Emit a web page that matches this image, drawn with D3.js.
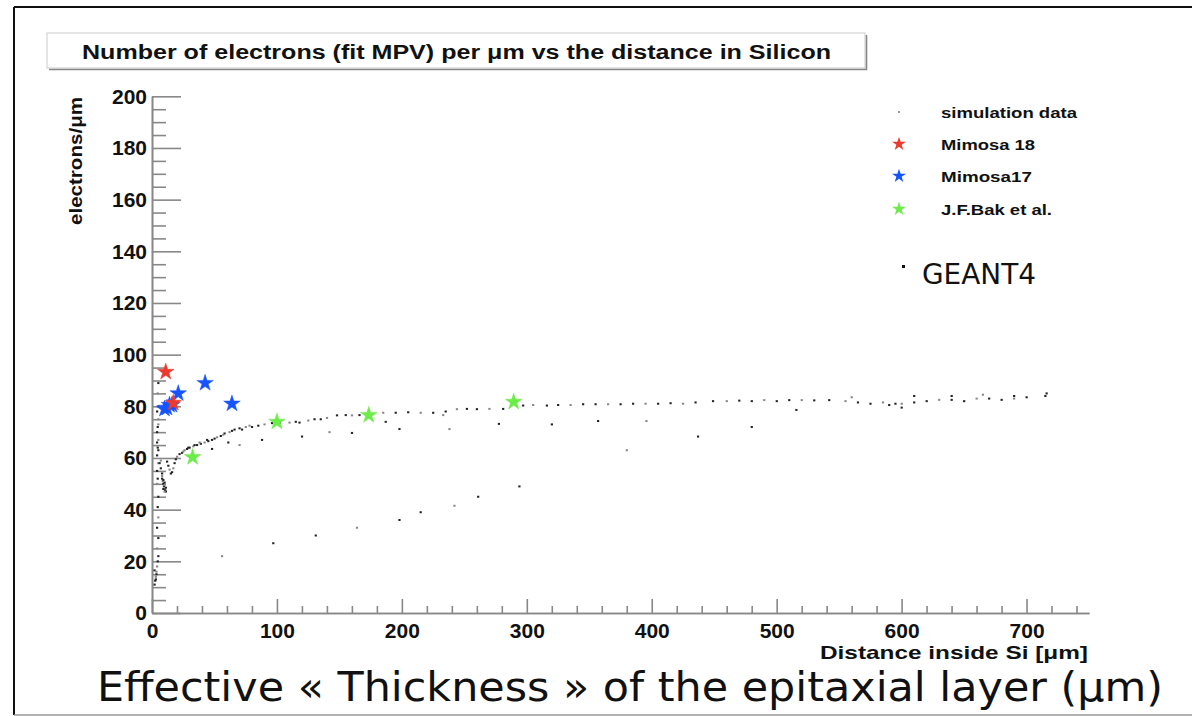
<!DOCTYPE html>
<html>
<head>
<meta charset="utf-8">
<script src="https://cdn.jsdelivr.net/npm/d3@7"></script>
<style>
  html, body { margin: 0; padding: 0; background: #fff; }
  svg { display: block; }
  .rt { font-family: "Liberation Sans", Arial, sans-serif; font-weight: bold; fill: #111; }
</style>
</head>
<body>
<svg id="chart" width="1192" height="716"></svg>
<script>
// ---------- data ----------
const chartTitle = "Number of electrons (fit MPV) per \u03bcm vs the distance in Silicon";
const xTitle = "Distance inside Si [\u03bcm]";
const yTitle = "electrons/\u03bcm";
const bigCaption = "Effective \u00ab Thickness \u00bb of the epitaxial layer (\u03bcm)";
const xMajorTicks = [0, 100, 200, 300, 400, 500, 600, 700];
const yMajorTicks = [0, 20, 40, 60, 80, 100, 120, 140, 160, 180, 200];

const legendNames = ["simulation data", "Mimosa 18", "Mimosa17", "J.F.Bak et al."];

// measured points [distance (um), electrons/um]
const mimosa18 = [[11, 93.3], [17, 81.3]];
const mimosa17 = [[10, 79], [12, 79.4], [14, 80.5], [16, 80.5], [21, 85], [42.5, 89], [64, 81]];
const bak = [[32.5, 60.3], [100, 74], [173.5, 76.6], [289.5, 81.7]];

// GEANT4 simulation points
const simulation = [
  [2,11],[2.5,12.5],[3,14],[3.5,15],[2,16.5],[4,18],[4.5,20],[5,22],[4,25],[5,29],[4,33],[5,37],
  [4.5,41],[5,45],[4,50],[4.5,52],[4,55],[5,58],[4,61],[4.5,64],[5,67],[4,70],[4.5,72],[5,75],
  [4,78],[5,80],[4.5,85],[5,89],[3,13],[3.5,16],[5,63],[4,66],[5,73],
  [6,58],[7,56],[7,59],[8,54],[8,52],[8.5,51],[9,50],[9.5,49],[10,48],[10.5,47.5],[11,47],
  [10,49.5],[9,51.5],[11,48.5],[10,47],[9,48],[10,50.5],[8,53],
  [12,58.6],[13,57],[14,55.5],[15,54],[16,54.5],[17,56],[18,58],[19,59.5],[20,60.5],
  [22,61.5],[24,62],[26,63],[28,63.5],[30,64],[33,64.5],[36,65],[39,65.5],[42,66],[45,66.5],
  [48,67],[52,68],[55,68.5],[58,69.5],[62,70],[66,71],[70,71.5],[75,72],[80,72],[85,72.5],
  [90,73],[96,73.5],[102,73.5],[110,73.7],[115,74],[118,73.7],[125,74.5],[130,75],[135,75],
  [140,75.5],[148,76.5],[155,76.6],[160,76.5],[166,76.6],[175,77],[185,77.5],[195,77.5],
  [205,77.7],[215,77.5],[225,77.5],[235,78],[244,78.9],[252,79],[260,78.9],[270,79],[281,79],
  [297,80.3],[305,80.5],[316,80.3],[325,80.5],[335,80.5],[345,80.8],[355,80.8],[365,80.8],
  [375,80.8],[385,81],[395,81],[405,81],[415,81.2],[425,81],[435,81.5],[449,82],[460,82],
  [470,82.2],[480,82],[490,82.4],[500,82],[510,82.4],[520,82.4],[530,82.3],[542,82.4],
  [555,82],[565,81.5],[575,81],[585,81.5],[590,80.5],[595,81],[600,81],[610,81.5],[620,82],
  [630,82.5],[640,82.5],[650,82],[660,83],[670,83],[680,82.5],[690,83],[700,83.5],[715,84],
  [560,83.5],[610,84],[640,84],[665,84.5],[690,84],[716,85],
  [25,62.5],[29,64],[34,65],[38,66],[44,67],[50,67.5],[57,69],[64,70.5],[72,71],[78,72.5],
  [48,63.5],[61,66],[70,65],[88,67],[120,68.3],[142,70],[160,69.7],[198,71.2],[238,71.2],
  [277.6,73.2],[187,74],[233,76.6],[320,73],[357,74.3],[395.7,74.3],[515.7,78.6],[600,79.5],
  [56,22],[97,27],[131,30],[164,33],[198,36],[215,39],[242,41.5],[261,45],[294,49],
  [380,63],[437,68.3],[480,72]
];

// ---------- drawing ----------
const svg = d3.select("#chart");

// outer frame
svg.append("line").attr("x1", 14).attr("y1", 7).attr("x2", 1192).attr("y2", 7)
  .attr("stroke", "#111").attr("stroke-width", 2);
svg.append("line").attr("x1", 14).attr("y1", 7).attr("x2", 14).attr("y2", 715)
  .attr("stroke", "#111").attr("stroke-width", 2);
svg.append("line").attr("x1", 14).attr("y1", 715).attr("x2", 1192).attr("y2", 715)
  .attr("stroke", "#999").attr("stroke-width", 1.5);

// title box
svg.append("rect").attr("x", 47).attr("y", 33).attr("width", 818).attr("height", 35)
  .attr("fill", "#fff").attr("stroke", "#ccc").attr("stroke-width", 1);
svg.append("path").attr("d", "M49,69.5 H866.5 V35")
  .attr("fill", "none").attr("stroke", "#888").attr("stroke-width", 1.6);
svg.append("text").attr("class", "rt").attr("x", 82).attr("y", 58.5)
  .attr("font-size", 20).attr("textLength", 749).attr("lengthAdjust", "spacingAndGlyphs")
  .text(chartTitle);

const x = d3.scaleLinear().domain([0, 750]).range([152, 1089]);
const y = d3.scaleLinear().domain([0, 200]).range([613, 96.3]);

const axisColor = "#888";
function styleAxis(g) {
  g.select(".domain").attr("stroke", axisColor).attr("stroke-width", 1.6);
  g.selectAll(".tick line").attr("stroke", axisColor).attr("stroke-width", 1.6);
  g.selectAll(".tick text").attr("class", "rt").attr("fill", "#111")
    .attr("font-size", 21).attr("font-family", "Liberation Sans, Arial, sans-serif")
    .attr("font-weight", "bold");
}

// x axis
const xMinor = d3.range(0, 741, 20).filter(v => v % 100 !== 0);
svg.append("g").attr("transform", `translate(0,${y(0)})`)
  .call(d3.axisBottom(x).tickValues(xMinor).tickSize(-7).tickFormat("").tickSizeOuter(0))
  .call(styleAxis);
svg.append("g").attr("transform", `translate(0,${y(0)})`)
  .call(d3.axisBottom(x).tickValues(xMajorTicks).tickSize(-14).tickPadding(10).tickSizeOuter(0))
  .call(styleAxis);

// y axis
const yMinor = d3.range(0, 201, 5).filter(v => v % 20 !== 0);
svg.append("g").attr("transform", `translate(${x(0)},0)`)
  .call(d3.axisLeft(y).tickValues(yMinor).tickSize(-14).tickFormat("").tickSizeOuter(0))
  .call(styleAxis);
svg.append("g").attr("transform", `translate(${x(0)},0)`)
  .call(d3.axisLeft(y).tickValues(yMajorTicks).tickSize(-29).tickPadding(5).tickSizeOuter(0))
  .call(styleAxis);

// axis titles
svg.append("text").attr("class", "rt").attr("text-anchor", "end")
  .attr("x", 1088).attr("y", 659).attr("font-size", 19)
  .attr("textLength", 268).attr("lengthAdjust", "spacingAndGlyphs").text(xTitle);
svg.append("text").attr("class", "rt").attr("text-anchor", "end")
  .attr("transform", "translate(82,97) rotate(-90)").attr("font-size", 19)
  .attr("textLength", 128).attr("lengthAdjust", "spacingAndGlyphs").text(yTitle);

// simulation points
svg.append("g").selectAll("rect").data(simulation).join("rect")
  .attr("x", d => x(d[0]) - 1).attr("y", d => y(d[1]) - 1)
  .attr("width", 2.2).attr("height", 2)
  .attr("fill", (d, i) => i % 3 === 2 ? "#888" : "#222");

// stars
const star = d3.symbol().type(d3.symbolStar).size(85);
function drawStars(data, color) {
  svg.append("g").selectAll("path").data(data).join("path")
    .attr("d", star)
    .attr("transform", d => `translate(${x(d[0])},${y(d[1])})`)
    .attr("fill", color).attr("stroke", color).attr("stroke-opacity", 0.5).attr("stroke-width", 1);
}
const colors = ["#999", "#ec3b2e", "#1654ff", "#6cec48"];
drawStars(mimosa17, colors[2]);
drawStars(mimosa18, colors[1]);
drawStars(bak, colors[3]);

// legend
const legendY = [112, 144, 176, 209];
const legendW = [136, 94, 91, 111];
const lg = svg.append("g");
lg.append("rect").attr("x", 898).attr("y", 111).attr("width", 2).attr("height", 2).attr("fill", colors[0]);
[1, 2, 3].forEach(i => {
  lg.append("path").attr("d", d3.symbol().type(d3.symbolStar).size(60)())
    .attr("transform", `translate(899,${legendY[i]})`).attr("fill", colors[i]);
});
legendNames.forEach((n, i) => {
  lg.append("text").attr("class", "rt").attr("x", 941).attr("y", legendY[i] + 5.5)
    .attr("font-size", 15).attr("textLength", legendW[i]).attr("lengthAdjust", "spacingAndGlyphs")
    .text(n);
});

// GEANT4 annotation
svg.append("rect").attr("x", 902).attr("y", 265).attr("width", 3).attr("height", 3).attr("fill", "#111");
svg.append("text").attr("x", 922).attr("y", 284)
  .attr("font-family", "DejaVu Sans, sans-serif").attr("font-size", 28).attr("fill", "#111")
  .attr("textLength", 114).attr("lengthAdjust", "spacingAndGlyphs").text("GEANT4");

// bottom caption
svg.append("text").attr("x", 97).attr("y", 701)
  .attr("font-family", "DejaVu Sans, sans-serif").attr("font-size", 40).attr("fill", "#111")
  .attr("textLength", 1066).attr("lengthAdjust", "spacingAndGlyphs").text(bigCaption);
</script>
</body>
</html>
